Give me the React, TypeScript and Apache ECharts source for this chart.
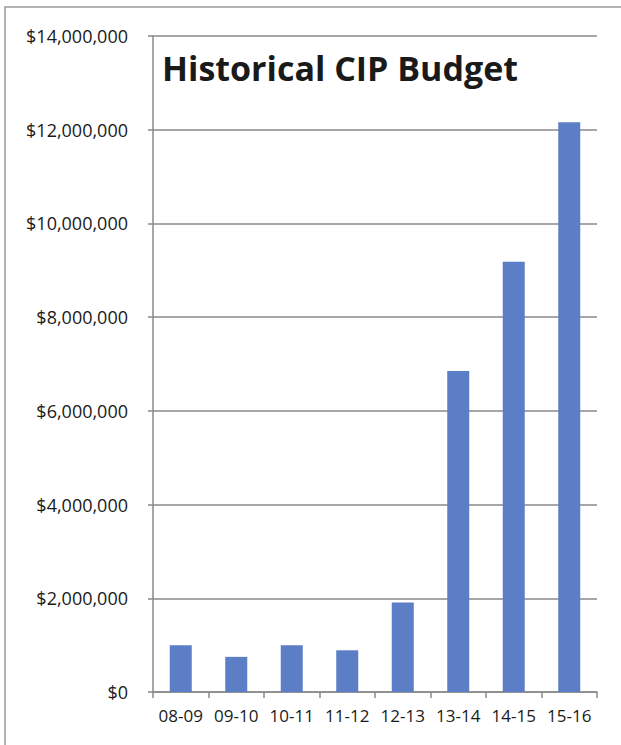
import React, { useEffect, useRef } from "react";
import * as echarts from "echarts";

const categories = ["08-09", "09-10", "10-11", "11-12", "12-13", "13-14", "14-15", "15-16"];
const budget = [1000000, 750000, 1000000, 890000, 1910000, 6850000, 9180000, 12160000];
const yTicks = { min: 0, max: 14000000, interval: 2000000 };
const title = "Historical CIP Budget";

const fmt = (v: number) => "$" + v.toLocaleString("en-US");

export default function App() {
  const ref = useRef<HTMLDivElement>(null);
  useEffect(() => {
    if (!ref.current) return;
    const chart = echarts.init(ref.current, null, { renderer: "svg" });
    chart.setOption({
      animation: false,
      backgroundColor: "#ffffff",
      textStyle: { fontFamily: "Open Sans" },
      grid: { left: 153, right: 24, top: 36, bottom: 53, containLabel: false },
      graphic: [
        {
          type: "polyline",
          shape: { points: [[5, 745], [5, 7], [621, 7]] },
          style: { stroke: "#9a9a9a", lineWidth: 1.5, fill: "none" },
        },
        {
          type: "text",
          left: 162,
          top: 51,
          style: {
            text: title,
            font: "bold 34px 'Open Sans'",
            fill: "#1a1a1a",
          },
        },
      ],
      xAxis: {
        type: "category",
        data: categories,
        axisLine: { lineStyle: { color: "#8a8a8a", width: 1.5 } },
        axisTick: { show: true, length: 6, lineStyle: { color: "#8a8a8a", width: 1.5 } },
        axisLabel: {
          color: "#1a1a1a",
          fontSize: 17,
          margin: 15,
          interval: 0,
          hideOverlap: false,
          fontFamily: "Open Sans",
        },
      },
      yAxis: {
        type: "value",
        min: yTicks.min,
        max: yTicks.max,
        interval: yTicks.interval,
        axisLine: { show: true, lineStyle: { color: "#8a8a8a", width: 1.5 } },
        axisTick: { show: true, length: 5, lineStyle: { color: "#8a8a8a", width: 1.5 } },
        splitLine: { show: true, lineStyle: { color: "#8a8a8a", width: 1.5 } },
        axisLabel: { color: "#1a1a1a", fontSize: 18, margin: 25, formatter: fmt, fontFamily: "Open Sans" },
      },
      series: [
        {
          type: "bar",
          data: budget,
          barWidth: 22,
          itemStyle: { color: "#5b7ec6" },
        },
      ],
    });
    return () => chart.dispose();
  }, []);
  return (
    <div
      ref={ref}
      style={{ position: "fixed", left: 0, top: 0, width: 621, height: 745 }}
    />
  );
}
